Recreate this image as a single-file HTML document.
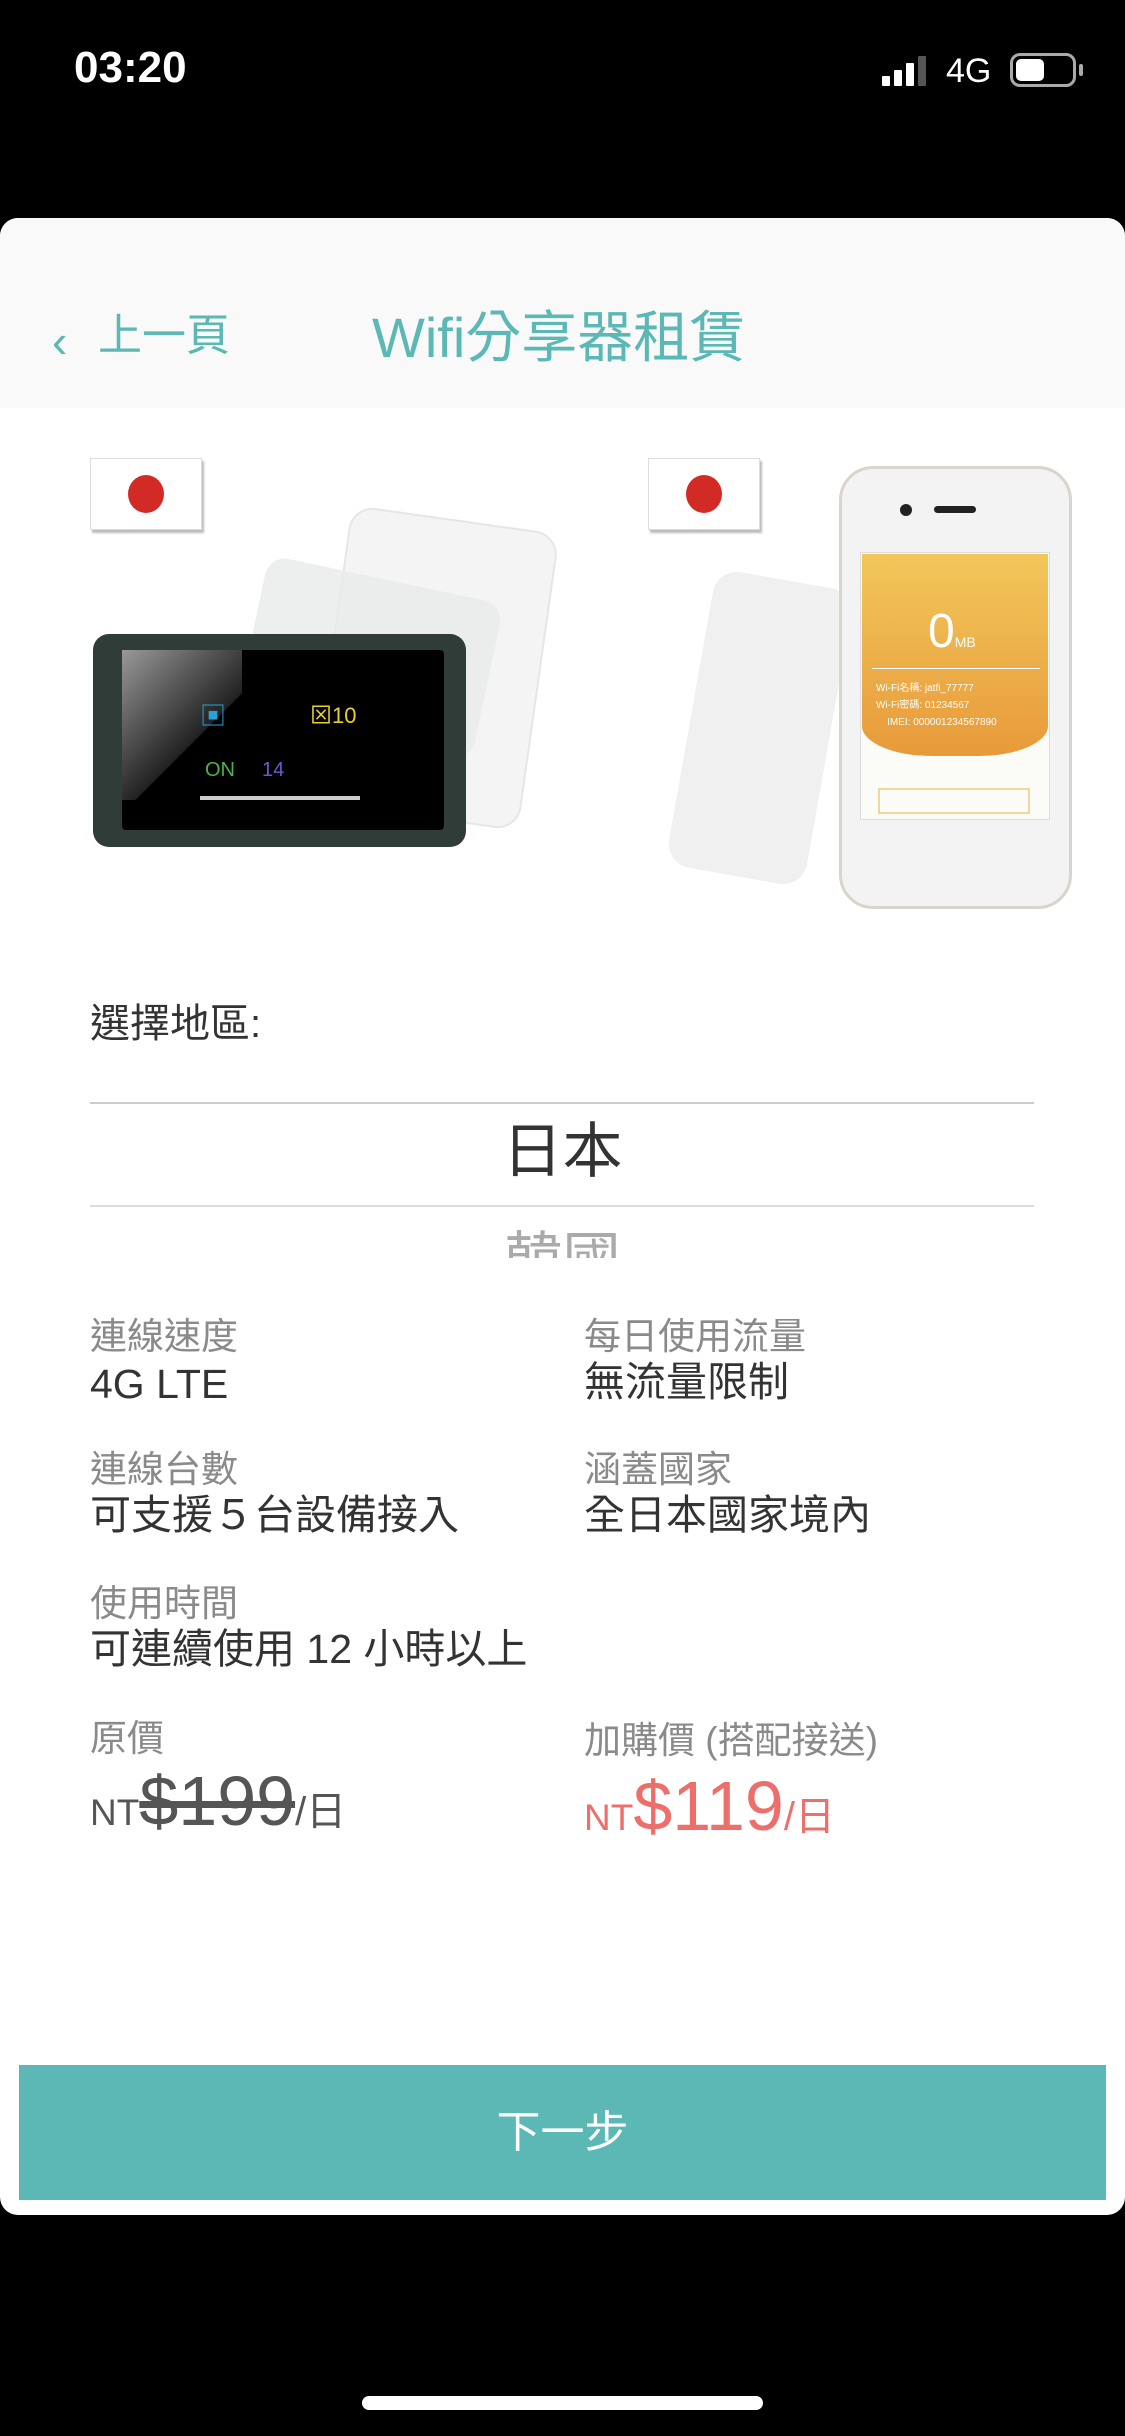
<!DOCTYPE html>
<html><head><meta charset="utf-8">
<style>
*{margin:0;padding:0;box-sizing:border-box}
body{width:1125px;height:2436px;background:#000;position:relative;overflow:hidden;font-family:"Liberation Sans","Noto Sans CJK TC",sans-serif}
.a{position:absolute}
.card{left:0;top:218px;width:1125px;height:1997px;background:#fff;border-radius:18px;overflow:hidden}
.t{white-space:nowrap;line-height:1}
.lab{color:#8a8a8a;font-size:37px}
.val{color:#333;font-size:41px}
</style></head><body>
<!-- status bar -->
<div class="a t" style="left:74px;top:46px;color:#fff;font-size:44px;font-weight:bold">03:20</div>
<div class="a" style="left:882px;top:76px;width:8px;height:10px;background:#fff;border-radius:1px"></div>
<div class="a" style="left:894px;top:70px;width:8px;height:16px;background:#fff;border-radius:1px"></div>
<div class="a" style="left:906px;top:63px;width:8px;height:23px;background:#fff;border-radius:1px"></div>
<div class="a" style="left:918px;top:56px;width:8px;height:30px;background:#555;border-radius:1px"></div>
<div class="a t" style="left:946px;top:54px;color:#fff;font-size:34px">4G</div>
<div class="a" style="left:1010px;top:53px;width:66px;height:34px;border:3px solid #aaa;border-radius:10px"></div>
<div class="a" style="left:1016px;top:59px;width:28px;height:22px;background:#fff;border-radius:5px"></div>
<div class="a" style="left:1079px;top:64px;width:4px;height:12px;background:#aaa;border-radius:2px"></div>

<div class="a card">
  <div class="a" style="left:0;top:0;width:1125px;height:190px;background:#f9f9f9"></div>
  <div class="a t" style="left:52px;top:100px;color:#5bb8b5;font-size:46px">‹</div>
  <div class="a t" style="left:98px;top:96px;color:#5bb8b5;font-size:44px">上一頁</div>
  <div class="a t" style="left:372px;top:92px;color:#5bb8b5;font-size:56px">Wifi分享器租賃</div>

  <!-- left device -->
  <div class="a" style="left:330px;top:300px;width:210px;height:300px;background:#f4f4f4;border:2px solid #e6e6e6;border-radius:24px;transform:rotate(8deg)"></div>
  <div class="a" style="left:250px;top:360px;width:240px;height:160px;background:#e8eaea;border-radius:20px;transform:rotate(12deg);opacity:.8"></div>
  <div class="a" style="left:93px;top:416px;width:373px;height:213px;background:#2f3c37;border-radius:16px"></div>
  <div class="a" style="left:122px;top:432px;width:322px;height:180px;background:#000;border-radius:4px"></div>
  <div class="a" style="left:122px;top:432px;width:120px;height:150px;background:linear-gradient(135deg,#999,#222 60%,transparent 61%)"></div>
  <div class="a t" style="left:200px;top:485px;color:#2aa0d8;font-size:26px">▣</div>
  <div class="a t" style="left:310px;top:487px;color:#e8d22a;font-size:22px">⊠10</div>
  <div class="a t" style="left:205px;top:542px;color:#4bb34b;font-size:20px">ON</div>
  <div class="a t" style="left:262px;top:542px;color:#6a5acd;font-size:20px">14</div>
  <div class="a" style="left:200px;top:578px;width:160px;height:4px;background:#ccc"></div>
  <!-- flags -->
  <div class="a" style="left:90px;top:240px;width:112px;height:72px;background:#fff;box-shadow:2px 3px 2px #bbb;border:1px solid #ddd"></div>
  <div class="a" style="left:128px;top:257px;width:36px;height:38px;background:#d22b26;border-radius:50%"></div>

  <!-- right device -->
  <div class="a" style="left:690px;top:360px;width:140px;height:300px;background:#ececec;border-radius:24px;transform:rotate(10deg);opacity:.8"></div>
  <div class="a" style="left:839px;top:248px;width:233px;height:443px;background:#f3f3f3;border:3px solid #d9d4cc;border-radius:34px"></div>
  <div class="a" style="left:900px;top:286px;width:12px;height:12px;background:#222;border-radius:50%"></div>
  <div class="a" style="left:934px;top:288px;width:42px;height:7px;background:#222;border-radius:4px"></div>
  <div class="a" style="left:860px;top:334px;width:190px;height:268px;background:#fbfbf8;border:1px solid #ddd"></div>
  <div class="a" style="left:862px;top:336px;width:186px;height:202px;background:linear-gradient(#f2c75a,#e89a3a);border-radius:0 0 70px 70px/0 0 30px 30px"></div>
  <div class="a t" style="left:928px;top:390px;color:#fff;font-size:48px">0<span style="font-size:14px">MB</span></div>
  <div class="a" style="left:872px;top:450px;width:168px;height:1px;background:#fff"></div>
  <div class="a t" style="left:876px;top:462px;color:#fff;font-size:10px;line-height:17px">Wi-Fi名稱: jatfi_77777<br>Wi-Fi密碼: 01234567<br>&nbsp;&nbsp;&nbsp;&nbsp;IMEI: 000001234567890</div>
  <div class="a" style="left:878px;top:570px;width:152px;height:26px;border:2px solid #f2d79a"></div>
  <div class="a" style="left:648px;top:240px;width:112px;height:72px;background:#fff;box-shadow:2px 3px 2px #bbb;border:1px solid #ddd"></div>
  <div class="a" style="left:686px;top:257px;width:36px;height:38px;background:#d22b26;border-radius:50%"></div>

  <div class="a t" style="left:90px;top:786px;color:#333;font-size:40px">選擇地區:</div>
  <div class="a" style="left:90px;top:884px;width:944px;height:2px;background:#ccc"></div>
  <div class="a t" style="left:0;width:1125px;text-align:center;top:904px;color:#333;font-size:60px">日本</div>
  <div class="a" style="left:90px;top:987px;width:944px;height:2px;background:#ddd"></div>
  <div class="a" style="left:0;top:1010px;width:1125px;height:30px;overflow:hidden"><div class="t" style="text-align:center;color:#aaa;font-size:58px;margin-top:3px">韓國</div></div>

  <div class="a t lab" style="left:90px;top:1100px">連線速度</div>
  <div class="a t val" style="left:90px;top:1146px">4G LTE</div>
  <div class="a t lab" style="left:584px;top:1100px">每日使用流量</div>
  <div class="a t val" style="left:584px;top:1144px">無流量限制</div>
  <div class="a t lab" style="left:90px;top:1233px">連線台數</div>
  <div class="a t val" style="left:90px;top:1277px">可支援５台設備接入</div>
  <div class="a t lab" style="left:584px;top:1233px">涵蓋國家</div>
  <div class="a t val" style="left:584px;top:1277px">全日本國家境內</div>
  <div class="a t lab" style="left:90px;top:1367px">使用時間</div>
  <div class="a t val" style="left:90px;top:1411px">可連續使用 12 小時以上</div>
  <div class="a t lab" style="left:90px;top:1502px">原價</div>
  <div class="a t" style="left:90px;top:1548px;color:#555"><span style="font-size:37px">NT</span><span style="font-size:70px;text-decoration:line-through">$199</span><span style="font-size:40px">/日</span></div>
  <div class="a t lab" style="left:584px;top:1504px">加購價 (搭配接送)</div>
  <div class="a t" style="left:584px;top:1553px;color:#ec6f6c"><span style="font-size:37px">NT</span><span style="font-size:70px">$119</span><span style="font-size:40px">/日</span></div>

  <div class="a" style="left:19px;top:1847px;width:1087px;height:135px;background:#5bb8b5"></div>
  <div class="a t" style="left:0;width:1125px;text-align:center;top:1893px;color:#fff;font-size:44px">下一步</div>
</div>
<div class="a" style="left:362px;top:2396px;width:401px;height:14px;background:#fff;border-radius:7px"></div>
</body></html>
